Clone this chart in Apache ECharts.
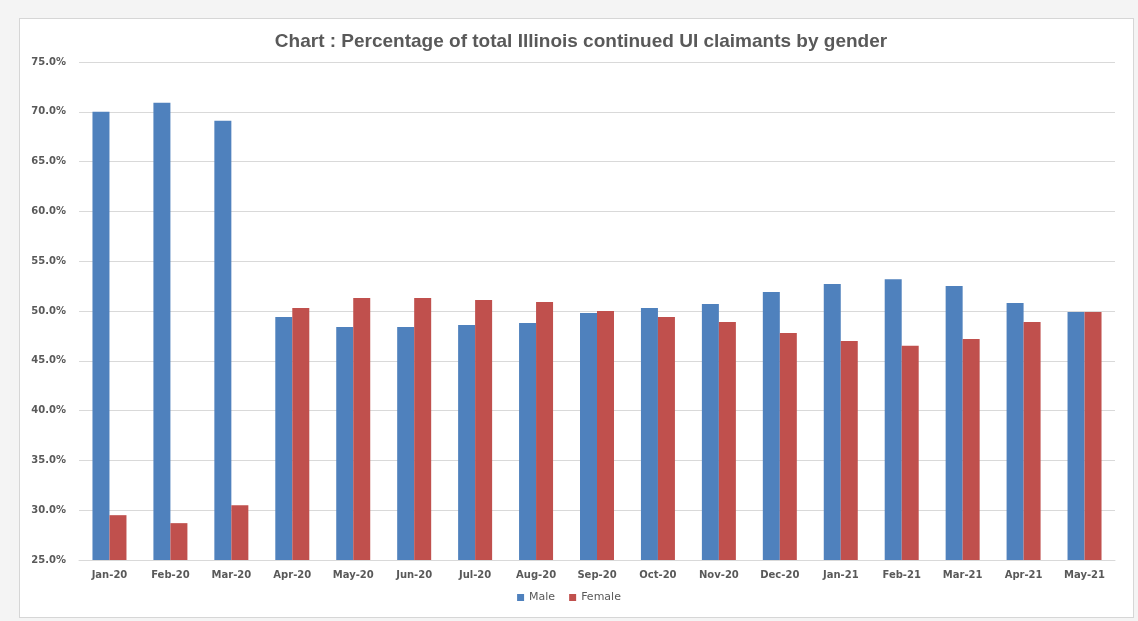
<!DOCTYPE html>
<html>
<head>
<meta charset="utf-8">
<script src="https://cdn.jsdelivr.net/npm/echarts@6/dist/echarts.min.js"></script>
<style>
  html, body { margin: 0; padding: 0; background: #f4f4f4; }
  #frame {
    position: absolute; left: 19px; top: 18px; width: 1113px; height: 598px;
    background: #fff; border: 1px solid #d6d6d6;
  }
  #main { position: absolute; left: 0; top: 0; width: 1138px; height: 621px; }
</style>
</head>
<body>
<div id="frame"></div>
<div id="main"></div>
<script>
var months = ['Jan-20','Feb-20','Mar-20','Apr-20','May-20','Jun-20','Jul-20','Aug-20','Sep-20',
              'Oct-20','Nov-20','Dec-20','Jan-21','Feb-21','Mar-21','Apr-21','May-21'];
var male   = [70.0, 70.9, 69.1, 49.4, 48.4, 48.4, 48.6, 48.8, 49.8, 50.3, 50.7, 51.9, 52.7, 53.2, 52.5, 50.8, 49.9];
var female = [29.5, 28.7, 30.5, 50.3, 51.3, 51.3, 51.1, 50.9, 50.0, 49.4, 48.9, 47.8, 47.0, 46.5, 47.2, 48.9, 49.9];

var myChart = echarts.init(document.getElementById('main'));

var labelStyle = {
	color: '#595959',
	fontFamily: 'DejaVu Sans',
	fontWeight: 'bold',
	fontSize: 10
};

var option = {
	animation: false,
	title: {
		text: 'Chart : Percentage of total Illinois continued UI claimants by gender',
		left: 576,
		textAlign: 'center',
		top: 27,
		textStyle: {
			color: '#595959',
			fontFamily: 'Liberation Sans',
			fontWeight: 'bold',
			fontSize: 19
		}
	},
	legend: {
		bottom: 13,
		left: 'center',
		itemWidth: 7,
		itemHeight: 7,
		itemGap: 14,
		icon: 'rect',
		textStyle: { color: '#595959', fontFamily: 'DejaVu Sans', fontSize: 11 },
		data: ['Male', 'Female']
	},
	grid: { left: 79, right: 23, top: 62, bottom: 61 },
	xAxis: {
		type: 'category',
		data: months,
		axisLine: { lineStyle: { color: '#d9d9d9' } },
		axisTick: { show: false },
		axisLabel: Object.assign({ margin: 10, interval: 0 }, labelStyle)
	},
	yAxis: {
		type: 'value',
		min: 25,
		max: 75,
		interval: 5,
		axisLine: { show: false },
		axisTick: { show: false },
		splitLine: { lineStyle: { color: '#d9d9d9', width: 1 } },
		axisLabel: Object.assign({
			margin: 13,
			formatter: function (v) { return v.toFixed(1) + '%'; }
		}, labelStyle)
	},
	series: [
		{
			name: 'Male',
			type: 'bar',
			data: male,
			barWidth: 17,
			barGap: '0%',
			itemStyle: { color: '#4f81bd' }
		},
		{
			name: 'Female',
			type: 'bar',
			data: female,
			barWidth: 17,
			itemStyle: { color: '#c0504d' }
		}
	]
};

myChart.setOption(option);
</script>
</body>
</html>
